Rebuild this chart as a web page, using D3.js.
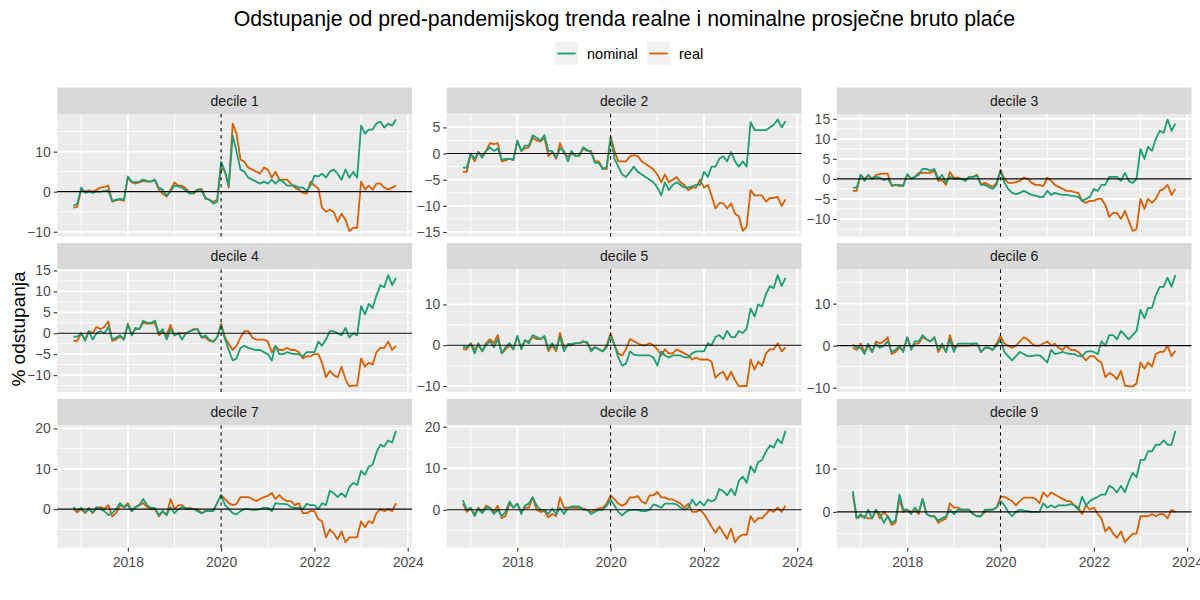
<!DOCTYPE html>
<html>
<head>
<meta charset="utf-8">
<script src="https://cdn.jsdelivr.net/npm/d3@7"></script>
<style>
  body { margin: 0; background: #fff; }
  svg { font-family: "Liberation Sans", Arial, sans-serif; }
</style>
</head>
<body>
<div id="chart"></div>
<script>
// monthly observations, Nov 2016 .. Oct 2023
const START = new Date(2016, 10, 1);
const END = new Date(2023, 9, 1);
const PANDEMIC = new Date(2020, 0, 1);

const deciles = ['decile 1', 'decile 2', 'decile 3', 'decile 4', 'decile 5',
                 'decile 6', 'decile 7', 'decile 8', 'decile 9'];

// rows: Nov-Dec 2016 | 2017 | 2018 | 2019 | 2020 | 2021 | 2022 | Jan-Oct 2023
const nominalD1 = [-3.5, -3,
  1, -0.3, 0, -0.3, 0, 0, 0.2, 0.3, -2.3, -2, -1.8, -2,
  3.8, 2.5, 2.4, 2.5, 3, 2.7, 2.5, 3, 1, 0.5, -1, 0,
  1.5, 1.3, 1, 0.3, -0.5, -0.3, 0.5, 0.3, -1.8, -2, -3, -2.5,
  7.5, 5, 1.5, 14, 10, 5.5, 5, 3.5, 3, 2.5, 2, 2.5,
  2, 3, 2, 3, 2.5, 1.5, 1.5, 1.5, 1, 1, 0.3, 1.5,
  4, 3.8, 4.5, 3.5, 5, 5.5, 4.5, 3, 5.5, 3.5, 5, 3.5,
  16.5, 14.5, 15.5, 15.5, 17, 17.5, 16, 17, 16.5, 18];
const realD1 = [-4, -3.8,
  0.5, 0, 0.3, 0, 0.5, 1, 1.2, 1.5, -2.5, -2.2, -2, -2.3,
  3.5, 2.3, 2, 2.3, 2.7, 2.5, 2.5, 2.8, 0.5, -0.5, -1.2, 0.5,
  2.3, 1.5, 1.5, 0.8, -0.3, -0.5, 0.5, 0.7, -1.5, -2, -2.5, -2,
  6, 5, 1, 17, 14.5, 8, 7.5, 6, 5.5, 5, 4.5, 6,
  5.5, 3.5, 5, 3, 3, 3, 2, 1, 0.5, -0.3, -0.5, 2.5,
  1.5, 0.8, -4, -5, -4.5, -5, -7.5, -5.5, -7, -9.8, -9, -9,
  2.5, 0.5, 1.5, 0.5, 2, 2, 1, 0.5, 1, 1.5];

const nominalD2 = [-2.7, -2.7,
  0, -1, 0.3, -0.8, 0.5, 1.2, 0.5, 1, -1.2, -1, -1, -1.2,
  2.5, 0.5, 1.5, 1.5, 3.5, 3, 2.5, 3.5, 0.5, 0.5, -0.8, 1,
  0.5, -1.5, 0.5, -0.5, -0.3, 1.2, 0.7, 0.3, -1.8, -1.8, -3, -2.5,
  3, -1, -2.5, -4, -4.5, -3.5, -2.5, -3.5, -4, -4.5, -5, -5.5,
  -6.5, -8, -5.5, -7, -6, -5.5, -6, -6.5, -6.5, -6.3, -6, -6,
  -3.5, -4.5, -2.5, -2.5, -1, -0.5, -1.5, 0.3, -1.5, -2.5, -1.5, -2.5,
  6, 4.5, 4.5, 4.5, 4.5, 5, 5.5, 6.5, 5, 6.2];
const realD2 = [-3.5, -3.5,
  0, -1.5, 0.3, -0.5, 0.5, 2, 1.8, 2, -1.5, -1.3, -1, -1.2,
  2.3, 0.5, 1, 1.2, 3, 2.5, 2.3, 3, -0.5, 0.3, -1, 2,
  0, -0.5, 0, -0.3, -0.5, 1, 0.5, 0.5, -1.5, -1.5, -2.8, -3,
  3.3, 0.5, -1.5, -1.5, -1.5, -0.5, -0.3, -0.5, -1.5, -2, -2.5, -3,
  -4, -5.5, -4, -5.5, -5, -4.5, -5.5, -6, -7, -6.5, -6.5, -5,
  -6.5, -6, -8, -10.5, -9.5, -9.5, -10.5, -9.5, -11.5, -12, -14.8, -14,
  -7, -8, -8, -8, -9.2, -8.5, -8.5, -8.3, -10, -8.8];

const nominalD3 = [-2.2, -2.2,
  1, -0.5, 1, 0, 0.5, 0.3, -0.3, 0, -1.5, -1.5, -1.5, -1.8,
  1.2, 0, 0.5, 1, 2.5, 2.5, 2, 2.5, 0, 1, -1, 0.5,
  0, 0, 0, -0.5, 0.5, 0.5, 0.8, -1.5, -1.5, -2, -2.5, -1.5,
  2, -1, -2.5, -3.5, -3.8, -3.5, -3, -3.5, -4, -4.2, -4.5, -4.5,
  -3, -4, -3.5, -3.8, -4, -4, -4.2, -4.3, -4.5, -5.5, -5, -4.5,
  -2.5, -3, -1.5, -1.5, 0.5, 0.5, 0.5, -0.5, 1.5, -0.5, -1, 0,
  7.5, 5, 8, 7, 10, 12, 11.5, 14.8, 12, 13.8];
const realD3 = [-3, -3,
  1, 0, 0.8, 0, 1, 1.2, 1.3, 1.3, -1.8, -1.5, -1.8, -1.5,
  1, 0, 0.5, 1.5, 1.5, 1.5, 1.5, 2, -0.5, -0.3, -1.5, 1.7,
  0.3, 0.3, 0, -0.3, 0.5, 0.5, 1, -1.3, -1, -1.5, -2, -1,
  2.3, 0, -1, -1, -0.8, -0.5, 0.3, 0, -1, -1.5, -1.5, -1.8,
  0.3, -0.5, -1.5, -2, -2.5, -3, -3, -3.3, -3.5, -5.5, -6, -5.5,
  -5.5, -5, -5, -6.5, -9.5, -8.5, -8.5, -10, -8, -10.5, -13, -12.5,
  -5, -7.5, -5, -6, -5, -3, -2.5, -1.5, -4, -2.5];

const nominalD4 = [-0.8, -0.8,
  0, -1.8, 0.5, -1.5, 0, 0.5, 0, 1.5, -1.5, -1, -0.5, -1.5,
  2, -0.5, 1.3, 1, 3, 2.5, 2.5, 3, 0, 1, -1.5, 1,
  -0.5, 0, -1.5, 0, 0.5, 0.8, 1, -1, -0.5, -1.5, -2, -1,
  1.8, -1.5, -4, -6.5, -6, -3.5, -3, -3.5, -3.8, -4, -4, -4.5,
  -5, -6.5, -3, -5, -5, -4.5, -4.8, -5, -5, -5.5, -4.5, -4.5,
  -4.5, -2, -3, -1.5, 0.5, 0.5, 0, -0.5, 1.3, -1, 0, -0.5,
  6.5, 4.5, 7, 6, 9, 11.5, 11, 13.9, 11.5, 13.2];
const realD4 = [-1.8, -1.8,
  0, -1.5, 0.5, 0, 1.5, 1, 1.5, 2.8, -1.8, -1.5, -0.8, -1.5,
  2.3, -0.3, 1, 1, 2.5, 2.3, 2.3, 2.5, -0.5, 0.3, -0.5, 2,
  -0.5, 0, 0, 0, 0.5, 1, 1, -1, -1, -1.8, -2, -1,
  2.3, -1, -2.5, -4, -3, -1, 0.5, 0.5, -1, -1.5, -1.5, -1.5,
  -2, -4.5, -3, -4, -4, -3.5, -4, -4, -4.5, -6, -5.5, -5.5,
  -5, -5, -7, -10.5, -9, -10, -10.5, -8, -11, -12.7, -12.5, -12.5,
  -6, -8, -7, -7.5, -4.5, -3.5, -3.5, -2, -4, -3];

const nominalD5 = [-0.5, -0.5,
  0.3, -2, 0.5, -1.5, 0, 1, -0.5, 1.5, -2, -0.5, 0.5, -1,
  2.3, -1, 1.3, 0.5, 2.5, 2, 1.5, 2.3, -1, 0.5, -1, 2,
  -1.5, 0.3, 0.3, 0.5, 0.5, 0.8, 0.8, -1.5, -0.5, -1, -1.5, -0.5,
  2.3, 0, -3, -5, -4.5, -1.5, -2.3, -2.5, -2.5, -2.5, -2.5, -3,
  -5, -1.5, -2.5, -3, -2.5, -2.5, -2.5, -3, -3, -2, -1.5, -1.5,
  -1.5, 0.5, 0, 2, 2.5, 1.5, 3.5, 2, 2, 3.5, 3, 4,
  9, 7, 10, 9.5, 12.5, 14.5, 14, 17.2, 14.5, 16.5];
const realD5 = [-1, -1,
  0.5, -1, 0, -1.5, 0.5, 1.5, 0.5, 2.5, -2, -1, 0, -1,
  2, -0.5, 1, 1, 2, 1.5, 1.5, 2, -1.5, 0, -1.5, 3,
  -0.5, 0, 0, 0.5, 0.5, 1, 0.5, -1, -0.5, -1, -1.5, 0,
  3, 0, -2, -2.5, -1, 1.5, 1, 0.5, 0, 0, 0.5, 0,
  -1, -2.5, -1, -2, -2, -1, -1.5, -2, -2.5, -3.5, -3, -3.5,
  -3.5, -3.5, -4, -8, -7, -6.5, -8.5, -6.5, -8.5, -10.1, -10, -10,
  -3.5, -6, -4, -5, -2, -1, -1, 0.5, -1.5, -0.5];

const nominalD6 = [0.3, -0.5,
  -0.5, -2, 0.5, -1.5, 0.5, -0.5, 0, 1, -1.5, -1, 0, -1.5,
  2, -1, 1, 1, 2.5, 1.5, 1, 2, -1, 0.5, -1.5, 1.5,
  -1.5, 0.5, 0.5, 0.5, 0.5, 0.5, 0.5, -1.5, -0.5, -0.5, -1, 0,
  1.5, -1.5, -2.5, -3.5, -2.5, -1.5, -2, -2.5, -2.5, -2.3, -2.3, -3,
  -4, -1, -2, -1.8, -1.5, -1.8, -2, -2, -2.5, -2.5, -1.5, -1.3,
  -1.5, -2, 1, 0, 2.5, 2.5, 1.5, 3.5, 2.5, 1.5, 2.5, 3.5,
  8.5, 6.5, 9, 9, 12, 14, 14, 16.2, 14, 16.8];
const realD6 = [-0.5, -1,
  0.5, -1.5, 0, -1.5, 1, 0.5, 1, 2, -2, -1.5, -0.5, -1,
  2, -0.5, 0.5, 0.5, 2, 1.5, 1, 2, -1.5, 0, -1.5, 2.5,
  -0.5, 0, 0, 0, 0, 0.5, 0.5, -1.5, -0.5, -0.5, -1, 0.5,
  2.3, 0.5, 0, -0.5, 0, 1, 2, 1.5, 0.5, 0, 0, 0.5,
  1, 0, 0.5, -0.5, -1, 0, -1, -1, -1.5, -2.5, -3.5, -2.5,
  -2.5, -3.5, -4, -7.5, -6.5, -7, -8, -6, -9.5, -9.7, -9.7, -9,
  -4, -5.5, -4, -5, -2, -1.5, -1.5, 0, -2.5, -1.2];

const nominalD7 = [0.5, -0.3,
  0.3, -0.8, 0, -0.8, 0.5, 0, -0.5, -1.5, -1, 0, 1.5, 0.5,
  1, -0.5, 0.5, 1, 2.5, 1, 0.3, 0.3, -1.5, -0.5, -1.5, 0.5,
  -1, 0, 0.5, 0.3, 0, 0, -0.5, -1, -0.5, -0.5, -0.5, 1.5,
  3.5, 1, 0, -1, -1.3, -0.5, 0, 0, -0.2, -0.2, 0, 0.3,
  0.3, -0.5, 1.5, 1.3, 1.3, 1.2, 0.5, 0.3, 0.3, 0, 1.3, 1,
  1, 0, 1.5, 1, 4.5, 4, 3, 4, 3, 5.5, 6.5, 6,
  9.5, 8.5, 10.5, 11, 14, 16, 15.5, 17, 16.5, 19.4];
const realD7 = [0, -0.8,
  0, -1, 0.3, -1, 0.3, 0.5, 0, 1, -1.8, -1, 1, 0.5,
  1.5, -0.5, 0.5, 1, 1.5, 0.5, 0, 0, -1.8, -0.5, -1.5, 2.5,
  0, 1, 1, 0, 0.3, 0, 0, -1, -0.5, -0.5, -0.3, 1.5,
  3.5, 2.5, 1.5, 1, 1.3, 3, 3, 3, 2.5, 2, 2.5, 3,
  3.3, 4, 2.5, 3.5, 2.5, 2, 2, 1, 1.5, -1, -1, -0.5,
  -0.5, -2.5, -3, -7, -5, -6, -7.5, -5.5, -8.2, -7, -7, -7,
  -3, -4.5, -3, -3.5, -1, 0, -0.5, 0, -0.5, 1.5];

const nominalD8 = [2.3, 0,
  0.5, -1.5, 0.3, -0.8, 0.5, 0.5, -1, 0, -1.5, -0.5, 2, 0.5,
  1.5, -1, 1, 1.5, 3, 1, 0, 0, -1, 0.3, -1, 0.5,
  -1, 0.5, 0.8, 0.8, 0.8, 0, 0, -1, -0.5, 0, 0, 1,
  2.5, 1, -0.5, -1.3, -0.5, 0, 0, 0, -0.3, -0.3, 0, 1.3,
  1, 0.5, 1.5, 1.5, 1.5, 1.3, 0.5, 0, 0.5, 2.5, 1, 2,
  1, 2.5, 2, 2.5, 5, 4.5, 3.5, 5, 3.5, 7, 8, 6.5,
  10.5, 9, 11.5, 12, 14, 15.5, 15, 17, 16, 19];
const realD8 = [1.5, -0.5,
  0.3, -1, 0.5, -0.5, 1, 0.5, -0.5, 1, -2, -1.5, 1.5, 0.5,
  1.5, -0.5, 0.5, 0.5, 3, 0, -0.5, -0.3, -1.8, -1, -1.5, 3,
  0.5, 0.5, 0.5, 0.5, 0.5, 0.3, 0, -0.5, 0, 0.3, 0.5, 1.5,
  3.5, 2.5, 1.5, 1, 1.5, 3, 3, 3.3, 2, 1.5, 3.5, 3.5,
  4.3, 3, 3, 2.5, 2.5, 2, 1.5, 0.5, 1.5, -0.5, -0.5, 0,
  -1, -2.5, -4, -5.5, -4, -5.5, -7, -4.5, -7.8, -6.5, -6, -6,
  -1.5, -3, -2, -2, -1, 0, -0.5, 0.5, -0.5, 1];

const nominalD9 = [4.8, -1.5,
  -0.5, -1.5, 0.5, -1.5, 0.5, -0.5, -2.5, -1, -2.5, -2, 4, 0.5,
  0.5, -0.5, 1, 0, 3, -0.5, -1, -1, -2, -1.5, -1, 0.5,
  -0.5, 0.5, 0.5, 0.5, 0.5, -0.5, -1, -1, 0.5, 0.5, 0.5, 1,
  2.5, 1.5, 0, -1, 0, 0.5, 0.3, 0.2, 0, 0, 0, 2,
  1, 1.5, 1, 1.5, 1.5, 1.5, 1.8, 1.5, 0.5, 3.5, 1.5, 2.5,
  3, 3.5, 4, 4, 6, 5.5, 4.5, 6, 4.5, 7, 9, 8,
  12, 12, 14, 14, 15.5, 15.5, 16.5, 15.5, 15.5, 18.7];
const realD9 = [4, -1.5,
  -1, -1, -1.5, -1.5, 0.5, -1.5, 0, -1, -3, -2.5, 3, 0,
  0.5, 0, 0.5, -0.5, 3, -0.5, -1, -1, -2.5, -2, -1.5, 2,
  1, 1, 0.5, 0.5, 0.5, -0.5, -1, -1, 0, 0.5, 0.5, 1,
  3.5, 3.5, 3, 2.5, 1.5, 2.5, 3.3, 3.3, 3.3, 3, 2, 4.5,
  3.5, 4.5, 4, 3.5, 3, 2.5, 2.5, 1.5, 1, -0.5, 1.5, 0.5,
  1, -0.5, -1.5, -4.5, -3.5, -5, -6, -4.5, -7, -6, -5, -5,
  -1, -1, -1, -0.5, -1, -0.5, -0.5, -1.5, 0.5, 0];

const nominalSeries = [nominalD1, nominalD2, nominalD3, nominalD4, nominalD5,
                       nominalD6, nominalD7, nominalD8, nominalD9];
const realSeries = [realD1, realD2, realD3, realD4, realD5,
                    realD6, realD7, realD8, realD9];

// y breaks per facet (free scales)
const yTicks = [[-10, 0, 10], [-15, -10, -5, 0, 5], [-10, -5, 0, 5, 10, 15],
                [-10, -5, 0, 5, 10, 15], [-10, 0, 10], [-10, 0, 10],
                [0, 10, 20], [0, 10, 20], [0, 10]];
const xTicks = [2018, 2020, 2022, 2024];
const xMinor = [2017, 2019, 2021, 2023];

const seriesKeys = ['nominal', 'real'];
const colors = { nominal: '#1b9e77', real: '#d95f02' };

// layout
const W = 1200, H = 600;
const COL_X = [57.3, 446.8, 836.7];
const ROW_Y = [87.5, 243, 398.8];
const STRIP_H = 26.5, PANEL_W = 354.8, PANEL_H = 122.5;

const months = d3.timeMonth.range(START, d3.timeMonth.offset(END, 1));

const svg = d3.select('#chart').append('svg')
  .attr('width', W).attr('height', H);

// shared x scale with ggplot's 5% expansion
const span = END - START;
const x = d3.scaleTime()
  .domain([new Date(+START - span * 0.05), new Date(+END + span * 0.05)])
  .range([0, PANEL_W]);

deciles.forEach((label, i) => {
  const col = i % 3, row = Math.floor(i / 3);
  const px = COL_X[col], py = ROW_Y[row] + STRIP_H;
  const nom = nominalSeries[i], re = realSeries[i];

  const lo = Math.min(d3.min(nom), d3.min(re));
  const hi = Math.max(d3.max(nom), d3.max(re));
  const pad = (hi - lo) * 0.05;
  const y = d3.scaleLinear().domain([lo - pad, hi + pad]).range([PANEL_H, 0]);
  const [d0, d1] = y.domain();

  // strip
  svg.append('rect')
    .attr('x', px).attr('y', ROW_Y[row])
    .attr('width', PANEL_W).attr('height', STRIP_H)
    .attr('fill', '#d9d9d9');
  svg.append('text')
    .attr('x', px + PANEL_W / 2).attr('y', ROW_Y[row] + STRIP_H / 2)
    .attr('text-anchor', 'middle').attr('dominant-baseline', 'central')
    .style('font-size', '14px').style('fill', '#1a1a1a')
    .text(label);

  const g = svg.append('g').attr('transform', `translate(${px},${py})`);
  g.append('rect').attr('width', PANEL_W).attr('height', PANEL_H).attr('fill', '#ebebeb');

  // minor grid
  const ticks = yTicks[i];
  const step = ticks[1] - ticks[0];
  const yMinor = d3.range(ticks[0] - step / 2, ticks[ticks.length - 1] + step, step)
    .filter(v => v >= d0 && v <= d1);
  g.selectAll('.ymin').data(yMinor).join('line')
    .attr('x1', 0).attr('x2', PANEL_W)
    .attr('y1', d => y(d)).attr('y2', d => y(d))
    .attr('stroke', '#fff').attr('stroke-width', 0.9);
  g.selectAll('.xmin').data(xMinor).join('line')
    .attr('x1', d => x(new Date(d, 0, 1))).attr('x2', d => x(new Date(d, 0, 1)))
    .attr('y1', 0).attr('y2', PANEL_H)
    .attr('stroke', '#fff').attr('stroke-width', 0.9);

  // major grid
  g.selectAll('.ymaj').data(ticks).join('line')
    .attr('x1', 0).attr('x2', PANEL_W)
    .attr('y1', d => y(d)).attr('y2', d => y(d))
    .attr('stroke', '#fff').attr('stroke-width', 1.8);
  g.selectAll('.xmaj').data(xTicks).join('line')
    .attr('x1', d => x(new Date(d, 0, 1))).attr('x2', d => x(new Date(d, 0, 1)))
    .attr('y1', 0).attr('y2', PANEL_H)
    .attr('stroke', '#fff').attr('stroke-width', 1.8);

  // y axis
  const yAxis = g.append('g')
    .call(d3.axisLeft(y).tickValues(ticks).tickSize(3.7).tickPadding(2.8).tickFormat(d3.format('d')));
  yAxis.select('.domain').remove();
  yAxis.selectAll('line').attr('stroke', '#333').attr('stroke-width', 1.1);
  yAxis.selectAll('text').style('font-size', '14px').style('fill', '#4d4d4d')
    .style('font-family', '"Liberation Sans", Arial, sans-serif');

  // x axis only on bottom row
  if (row === 2) {
    const xAxis = g.append('g').attr('transform', `translate(0,${PANEL_H})`)
      .call(d3.axisBottom(x).tickValues(xTicks.map(t => new Date(t, 0, 1)))
        .tickSize(3.7).tickPadding(6).tickFormat(d3.timeFormat('%Y')));
    xAxis.select('.domain').remove();
    xAxis.selectAll('line').attr('stroke', '#333').attr('stroke-width', 1.1);
    xAxis.selectAll('text').style('font-size', '14px').style('fill', '#4d4d4d')
      .style('font-family', '"Liberation Sans", Arial, sans-serif');
  }

  // series: real first, nominal drawn on top
  const line = d3.line().x((d, k) => x(months[k])).y(d => y(d));
  [['real', re], ['nominal', nom]].forEach(([key, vals]) => {
    g.append('path').datum(vals)
      .attr('d', line)
      .attr('fill', 'none')
      .attr('stroke', colors[key])
      .attr('stroke-width', 1.8)
      .attr('stroke-linejoin', 'round');
  });

  // zero line and pandemic marker
  g.append('line')
    .attr('x1', 0).attr('x2', PANEL_W)
    .attr('y1', y(0)).attr('y2', y(0))
    .attr('stroke', '#000').attr('stroke-width', 1.1);
  g.append('line')
    .attr('x1', x(PANDEMIC)).attr('x2', x(PANDEMIC))
    .attr('y1', 0).attr('y2', PANEL_H)
    .attr('stroke', '#000').attr('stroke-width', 1.1)
    .attr('stroke-dasharray', '3.5,3.5');
});

// title
svg.append('text')
  .attr('x', (COL_X[0] + COL_X[2] + PANEL_W) / 2).attr('y', 26)
  .attr('text-anchor', 'middle')
  .style('font-size', '21.3px').style('fill', '#000')
  .text('Odstupanje od pred-pandemijskog trenda realne i nominalne prosječne bruto plaće');

// y axis title
svg.append('text')
  .attr('transform', 'translate(25,329) rotate(-90)')
  .attr('text-anchor', 'middle')
  .style('font-size', '19px').style('fill', '#000')
  .text('% odstupanja');

// legend
const legendX = [555, 647];
const legend = svg.append('g');
seriesKeys.forEach((key, k) => {
  const lg = legend.append('g').attr('transform', `translate(${legendX[k]},42)`);
  lg.append('rect').attr('width', 23).attr('height', 23).attr('fill', '#f2f2f2');
  lg.append('line').attr('x1', 2.3).attr('x2', 20.7).attr('y1', 11.5).attr('y2', 11.5)
    .attr('stroke', colors[key]).attr('stroke-width', 1.8);
  lg.append('text').attr('x', 32).attr('y', 11.5)
    .attr('dominant-baseline', 'central')
    .style('font-size', '14.5px').style('fill', '#000')
    .text(key);
});
</script>
</body>
</html>
